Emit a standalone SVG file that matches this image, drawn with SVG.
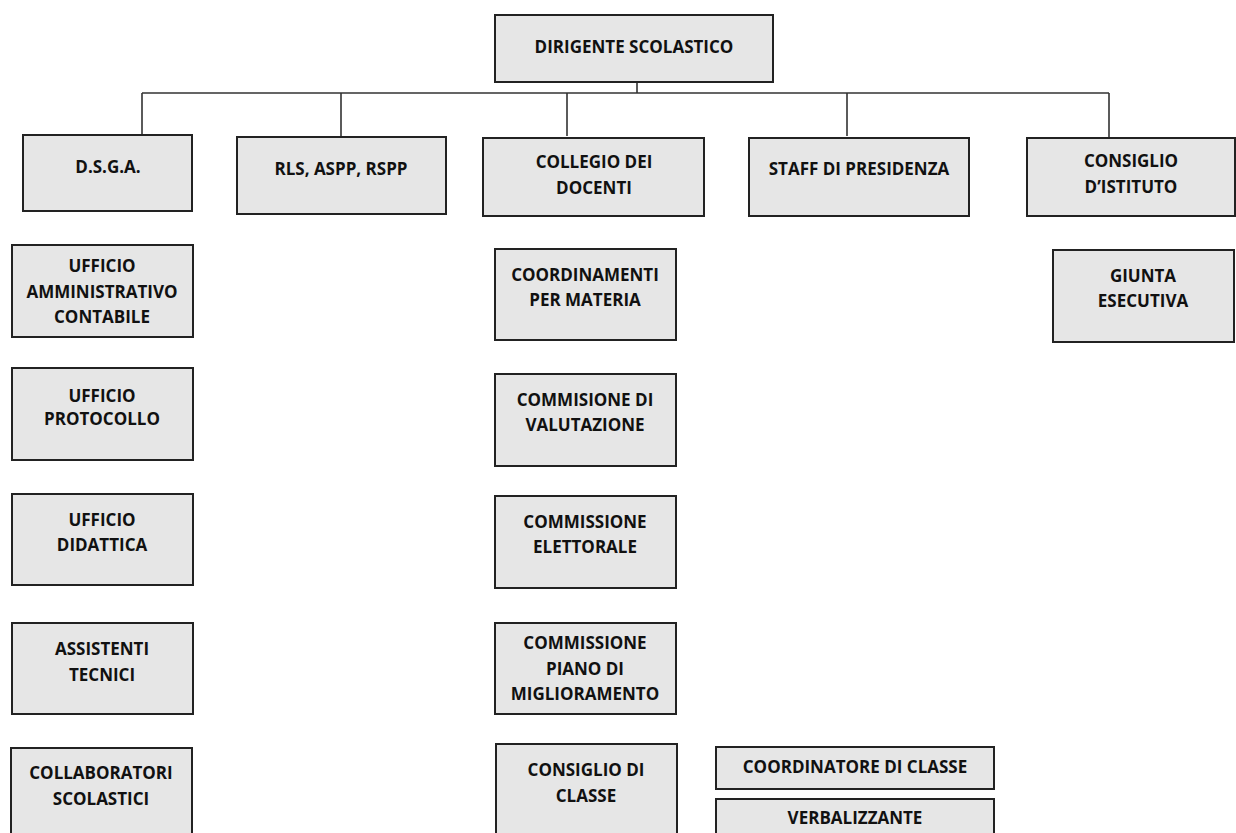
<svg xmlns="http://www.w3.org/2000/svg" width="1236" height="833" viewBox="0 0 1236 833">
<style>
.box{fill:#e6e6e6;stroke:#222;stroke-width:2}
.t{font-family:"Open Sans","Liberation Sans",sans-serif;font-weight:bold;font-size:17px;fill:#111;text-anchor:middle}
.c{stroke:#333;stroke-width:1.6;fill:none}
</style>
<rect width="1236" height="833" fill="#fff"/>
<g id="connectors">
<path class="c" d="M637 82V93M142 93H1109M142 93V135M341 93V137M567 93V136M847 93V136M1109 93V138"/>
</g>
<g id="dirigente"><rect class="box" x="495" y="15" width="278" height="67"/><text class="t" x="634" y="53">DIRIGENTE SCOLASTICO</text></g>
<g id="dsga"><rect class="box" x="23" y="135" width="169" height="76"/><text class="t" x="108" y="173">D.S.G.A.</text></g>
<g id="rls"><rect class="box" x="237" y="137" width="209" height="77"/><text class="t" x="341" y="175">RLS, ASPP, RSPP</text></g>
<g id="collegio"><rect class="box" x="483" y="138" width="221" height="78"/><text class="t" x="594" y="168">COLLEGIO DEI</text><text class="t" x="594" y="194">DOCENTI</text></g>
<g id="staff"><rect class="box" x="749" y="138" width="220" height="78"/><text class="t" x="859" y="175">STAFF DI PRESIDENZA</text></g>
<g id="consiglio-istituto"><rect class="box" x="1027" y="138" width="208" height="78"/><text class="t" x="1131" y="167">CONSIGLIO</text><text class="t" x="1131" y="193">D’ISTITUTO</text></g>
<g id="ufficio-amm"><rect class="box" x="12" y="245" width="181" height="92"/><text class="t" x="102" y="272">UFFICIO</text><text class="t" x="102" y="298">AMMINISTRATIVO</text><text class="t" x="102" y="323">CONTABILE</text></g>
<g id="ufficio-protocollo"><rect class="box" x="12" y="368" width="181" height="92"/><text class="t" x="102" y="402">UFFICIO</text><text class="t" x="102" y="425">PROTOCOLLO</text></g>
<g id="ufficio-didattica"><rect class="box" x="12" y="494" width="181" height="91"/><text class="t" x="102" y="526">UFFICIO</text><text class="t" x="102" y="551">DIDATTICA</text></g>
<g id="assistenti"><rect class="box" x="12" y="623" width="181" height="91"/><text class="t" x="102" y="655">ASSISTENTI</text><text class="t" x="102" y="681">TECNICI</text></g>
<g id="collaboratori"><rect class="box" x="11" y="748" width="181" height="100"/><text class="t" x="101" y="779">COLLABORATORI</text><text class="t" x="101" y="805">SCOLASTICI</text></g>
<g id="coordinamenti"><rect class="box" x="495" y="249" width="181" height="91"/><text class="t" x="585" y="281">COORDINAMENTI</text><text class="t" x="585" y="306">PER MATERIA</text></g>
<g id="valutazione"><rect class="box" x="495" y="374" width="181" height="92"/><text class="t" x="585" y="406">COMMISIONE DI</text><text class="t" x="585" y="431">VALUTAZIONE</text></g>
<g id="elettorale"><rect class="box" x="495" y="496" width="181" height="92"/><text class="t" x="585" y="528">COMMISSIONE</text><text class="t" x="585" y="553">ELETTORALE</text></g>
<g id="piano"><rect class="box" x="495" y="623" width="181" height="91"/><text class="t" x="585" y="649">COMMISSIONE</text><text class="t" x="585" y="675">PIANO DI</text><text class="t" x="585" y="700">MIGLIORAMENTO</text></g>
<g id="consiglio-classe"><rect class="box" x="496" y="744" width="181" height="100"/><text class="t" x="586" y="776">CONSIGLIO DI</text><text class="t" x="586" y="802">CLASSE</text></g>
<g id="coordinatore"><rect class="box" x="716" y="747" width="278" height="42"/><text class="t" x="855" y="773">COORDINATORE DI CLASSE</text></g>
<g id="verbalizzante"><rect class="box" x="716" y="799" width="278" height="50"/><text class="t" x="855" y="824">VERBALIZZANTE</text></g>
<g id="giunta"><rect class="box" x="1053" y="250" width="181" height="92"/><text class="t" x="1143" y="282">GIUNTA</text><text class="t" x="1143" y="307">ESECUTIVA</text></g>
</svg>
